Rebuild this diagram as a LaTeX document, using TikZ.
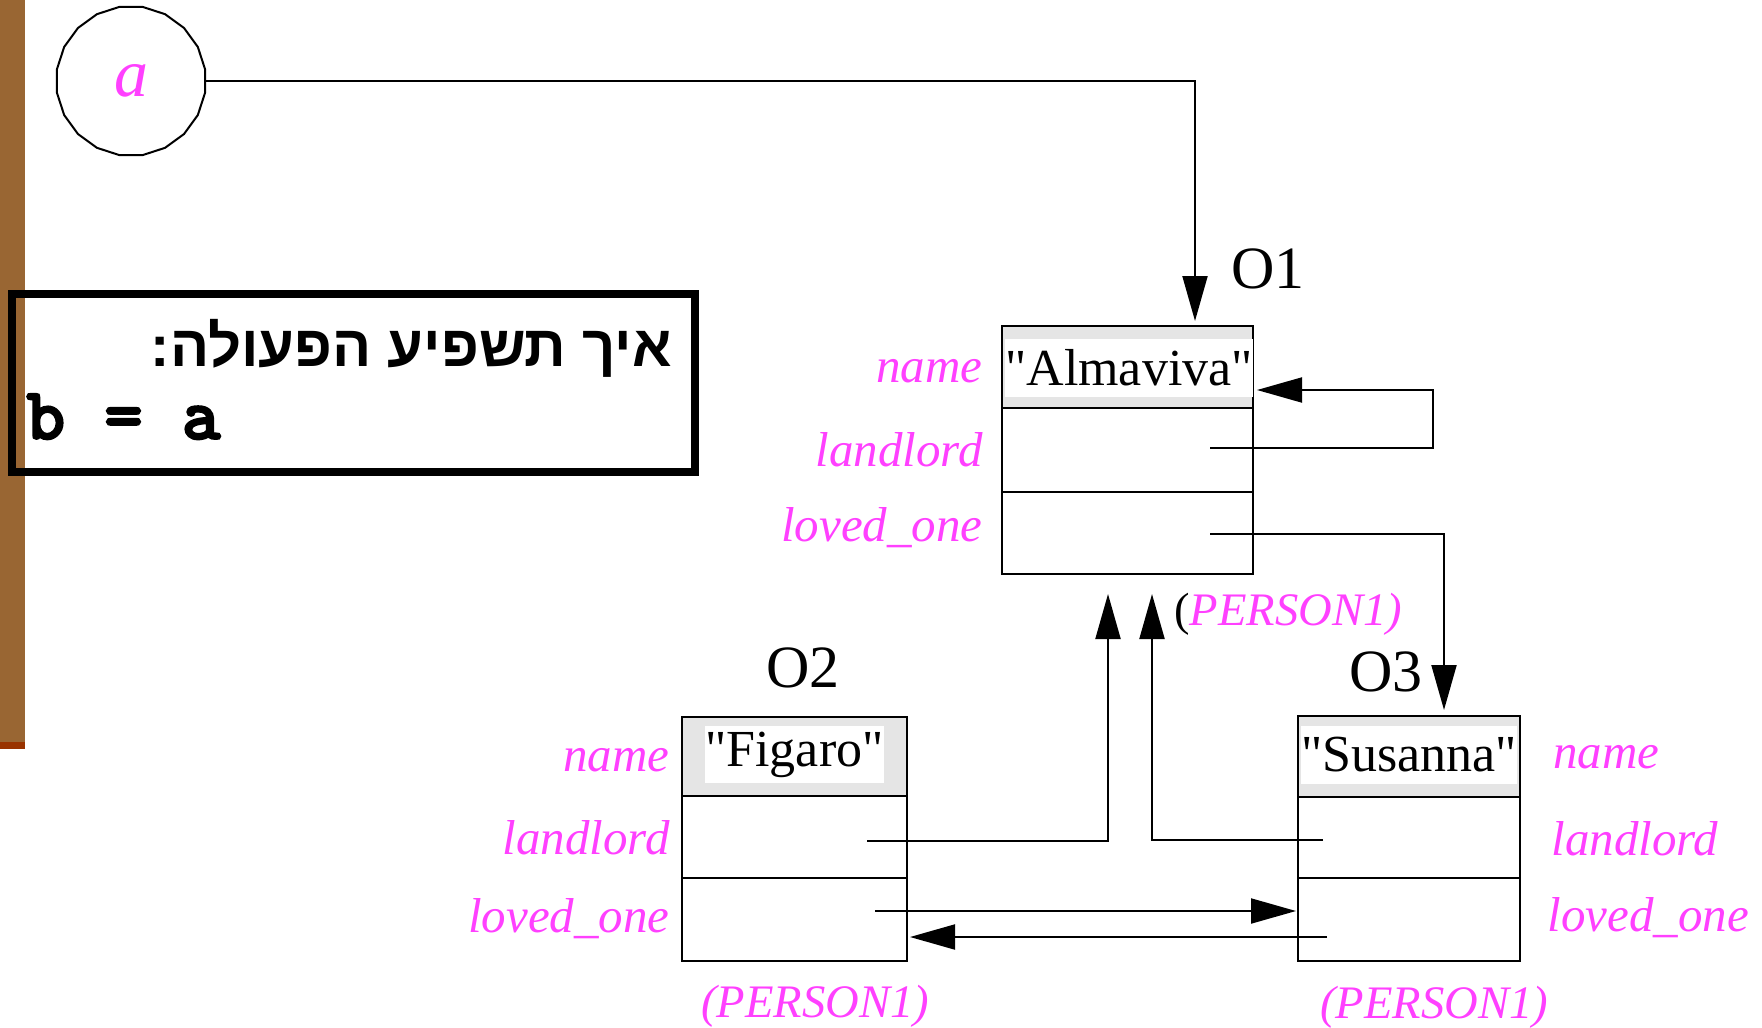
\documentclass[tikz,border=0pt]{standalone}
\usepackage{fontspec}
\setmainfont{Liberation Serif}
\newfontfamily\valfont{Liberation Serif}
\newfontfamily\hebfont[Script=Hebrew]{Liberation Sans}
\newfontfamily\codefont[FakeBold=2.5]{lmmonolt10-bold.otf}
\TeXXeTstate=1
\usetikzlibrary{arrows.meta,shapes.geometric}
\definecolor{barbrown}{HTML}{996633}
\definecolor{barred}{HTML}{993300}
\definecolor{lblpink}{HTML}{FF40FF}
\definecolor{cellgrey}{HTML}{E5E5E5}
\begin{document}
\begin{tikzpicture}[x=0.5pt,y=-0.5pt,
  cell/.style={draw=black, line width=1pt, inner sep=0pt},
  namecell/.style={cell, fill=cellgrey},
  whitebox/.style={fill=white, inner sep=0pt, font=\valfont\fontsize{26}{30}\selectfont},
  objlabel/.style={inner sep=0pt, font=\fontsize{30}{34}\selectfont},
  field/.style={inner sep=0pt, text=lblpink, font=\fontsize{24.5}{28}\selectfont\itshape},
  cls/.style={inner sep=0pt, text=lblpink, font=\fontsize{23.3}{28}\selectfont\itshape},
  ptr/.style={draw=black, line width=1pt, -{Triangle[length=22.5pt,width=12.5pt]}},
  ]
\useasboundingbox (0,0) rectangle (1762,1028);
% side bar
\fill[barbrown] (0,0) rectangle (25,742);
\fill[barred] (0,742) rectangle (25,749);

% variable a
\node[draw, regular polygon, regular polygon sides=20, line width=1pt, minimum size=75pt, inner sep=0pt,
      text=lblpink, font=\fontsize{34}{38}\selectfont\itshape] (acirc) at (131,81) {a};

% question box
\draw[line width=3.6pt] (12,294) rectangle (695,472);
\node[anchor=base east, inner sep=0pt, font=\hebfont\bfseries\fontsize{29}{33}\selectfont] (heb) at (672,366) {\beginR איך תשפיע הפעולה:\endR};
\node[anchor=base west, inner sep=0pt, font=\codefont\fontsize{37}{42}\selectfont] (code) at (26,439) {b = a};

% ---------- O1 ----------
\node[namecell, minimum width=125.5pt, minimum height=41pt] (o1name) at (1127.5,367) {};
\node[cell, minimum width=125.5pt, minimum height=42pt] (o1land) at (1127.5,450) {};
\node[cell, minimum width=125.5pt, minimum height=41pt] (o1love) at (1127.5,533) {};
\node[whitebox, minimum width=121pt, minimum height=29pt] (o1val) at (1129,368) {"Almaviva"};
\node[objlabel, anchor=base] (o1lab) at (1268,288) {O1};
\node[field, anchor=base east] (o1f1) at (983,382) {name};
\node[field, anchor=base east] (o1f2) at (983,466) {landlord};
\node[field, anchor=base east] (o1f3) at (983,541) {loved\_one};
\node[cls, anchor=base west] (o1cls) at (1174,625) {\textcolor{black}{\upshape(}PERSON1)};

% ---------- O2 ----------
\node[namecell, minimum width=112.5pt, minimum height=39.5pt] (o2name) at (794.5,756.5) {};
\node[cell, minimum width=112.5pt, minimum height=41pt] (o2land) at (794.5,837) {};
\node[cell, minimum width=112.5pt, minimum height=41.5pt] (o2love) at (794.5,919.5) {};
\node[whitebox, minimum width=88.5pt, minimum height=28.5pt] (o2val) at (794.5,754.5) {"Figaro"};
\node[objlabel, anchor=base] (o2lab) at (803,687) {O2};
\node[field, anchor=base east] (o2f1) at (670,771) {name};
\node[field, anchor=base east] (o2f2) at (670,854) {landlord};
\node[field, anchor=base east] (o2f3) at (670,932) {loved\_one};
\node[cls, anchor=base] (o2cls) at (815,1017) {(PERSON1)};

% ---------- O3 ----------
\node[namecell, minimum width=111pt, minimum height=40.5pt] (o3name) at (1409,756.5) {};
\node[cell, minimum width=111pt, minimum height=40.5pt] (o3land) at (1409,837.5) {};
\node[cell, minimum width=111pt, minimum height=41.5pt] (o3love) at (1409,919.5) {};
\node[whitebox, minimum width=107pt, minimum height=29pt] (o3val) at (1409,755) {"Susanna"};
\node[objlabel, anchor=base] (o3lab) at (1386,691) {O3};
\node[field, anchor=base west] (o3f1) at (1553,768) {name};
\node[field, anchor=base west] (o3f2) at (1551,855) {landlord};
\node[field, anchor=base west] (o3f3) at (1547,931) {loved\_one};
\node[cls, anchor=base] (o3cls) at (1434,1018) {(PERSON1)};

% ---------- pointer coordinates ----------
\coordinate (o1top) at (1195,321);
\coordinate (o1ls) at (1210,448);
\coordinate (o1lt) at (1257,390);
\coordinate (o1vs) at (1210,534);
\coordinate (o3top) at (1444,710);
\coordinate (o2ls) at (867,841);
\coordinate (o1b1) at (1108,594);
\coordinate (o3ls) at (1323,840);
\coordinate (o1b2) at (1152,594);
\coordinate (o2vs) at (875,911);
\coordinate (o3vt) at (1296,911);
\coordinate (o3vs) at (1327,937);
\coordinate (o2vt) at (910,937);

% ---------- pointers ----------
\draw[ptr] (acirc.east) -| (o1top);
\draw[ptr] (o1ls) -- ++(223,0) |- (o1lt);
\draw[ptr] (o1vs) -| (o3top);
\draw[ptr] (o2ls) -| (o1b1);
\draw[ptr] (o3ls) -| (o1b2);
\draw[ptr] (o2vs) -- (o3vt);
\draw[ptr] (o3vs) -- (o2vt);
\end{tikzpicture}
\end{document}
